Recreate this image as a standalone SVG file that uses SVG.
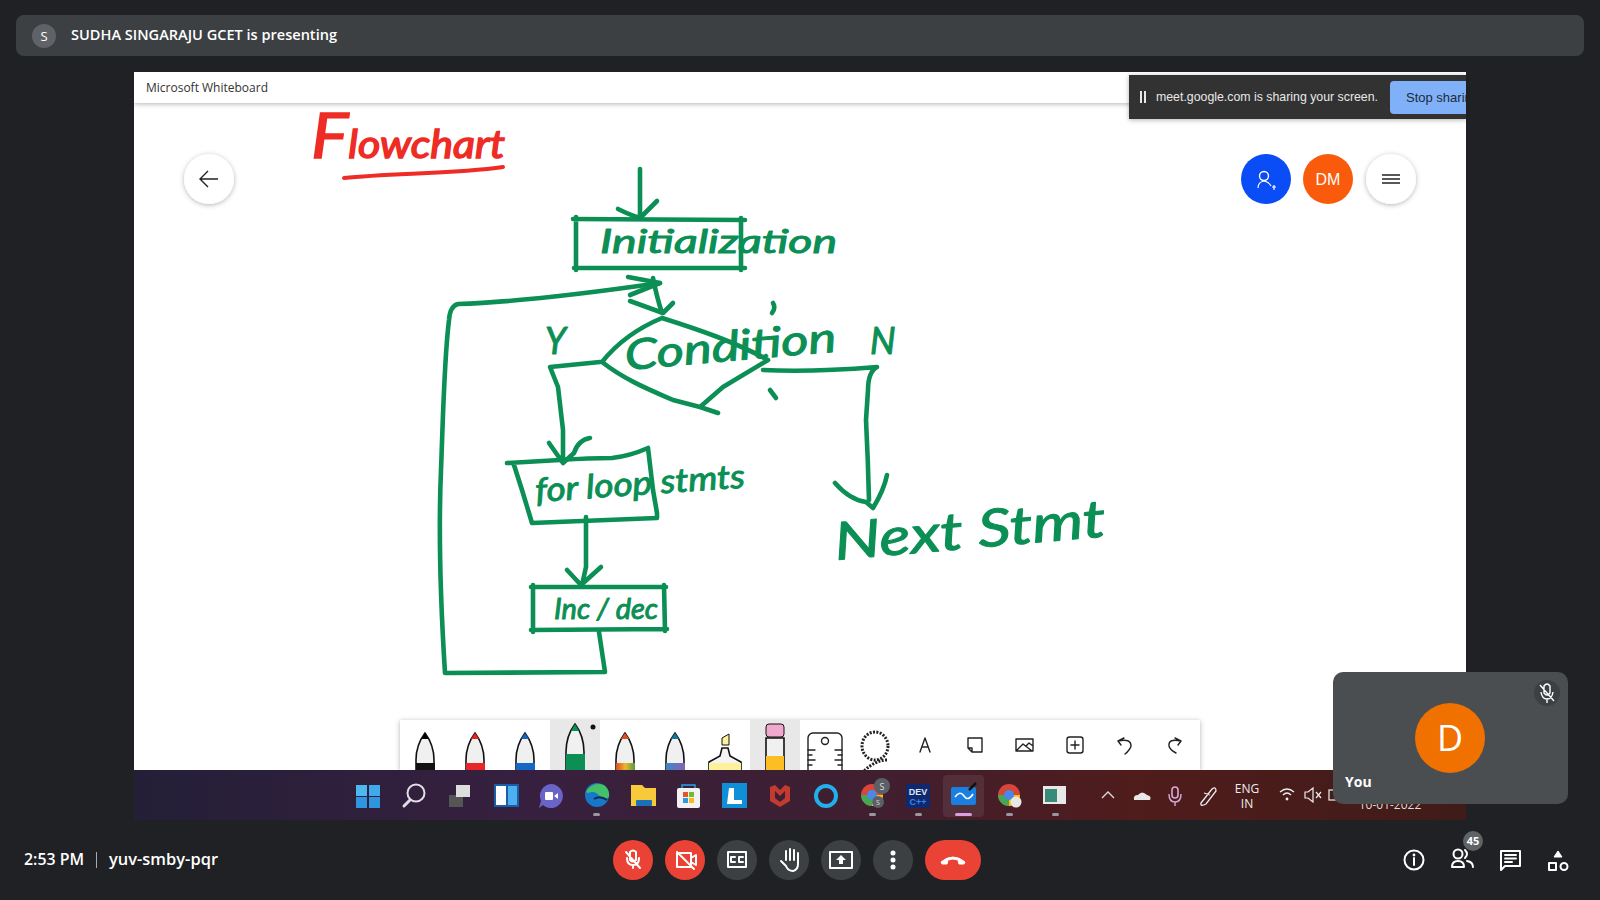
<svg xmlns="http://www.w3.org/2000/svg" width="1600" height="900" viewBox="0 0 1600 900">
<style>
.ui{font-family:"Open Sans","Liberation Sans",sans-serif}
.w{fill:#fff}
.ink{fill:none;stroke:#0b8f55;stroke-width:4.6;stroke-linecap:round;stroke-linejoin:round}
.hw{font-family:"Lato","Liberation Sans",sans-serif;font-style:italic;fill:#0b8f55;stroke:#0b8f55;stroke-width:1;stroke-linejoin:round}
.ic{fill:none;stroke:#fff;stroke-width:2;stroke-linecap:round;stroke-linejoin:round}
.tb{fill:none;stroke:#222;stroke-width:1.4;stroke-linecap:round;stroke-linejoin:round}
.pen{fill:#f0f0f0;stroke:#111;stroke-width:1.6}
.dot{fill:#9a98a0}
</style>
<defs>
<filter id="sh" x="-30%" y="-30%" width="160%" height="170%"><feDropShadow dx="0" dy="1" stdDeviation="2.5" flood-color="#000" flood-opacity=".3"/></filter>
<linearGradient id="task" x1="0" x2="1" y1="0" y2="0"><stop offset="0" stop-color="#241f38"/><stop offset=".3" stop-color="#37203f"/><stop offset=".55" stop-color="#3f1f30"/><stop offset=".75" stop-color="#501c1c"/><stop offset="1" stop-color="#3f1c18"/></linearGradient>
<linearGradient id="rain" x1="0" x2="1" y1="0" y2="0"><stop offset="0" stop-color="#e0501c"/><stop offset=".5" stop-color="#e8b830"/><stop offset="1" stop-color="#5a9a3c"/></linearGradient>
<linearGradient id="gal" x1="0" x2="1" y1="0" y2="0"><stop offset="0" stop-color="#3a88c8"/><stop offset="1" stop-color="#8a62b0"/></linearGradient>
<clipPath id="board"><rect x="134" y="72" width="1332" height="748"/></clipPath>
<clipPath id="tools"><rect x="400" y="720" width="800" height="50"/></clipPath>
</defs>
<rect width="1600" height="900" fill="#202124"/>
<g id="presenter-bar">
<rect x="16" y="15" width="1568" height="41" rx="8" fill="#3c4043"/>
<circle cx="44" cy="36" r="12" fill="#5f6368"/>
<text x="44" y="41" text-anchor="middle" class="ui w" font-size="13">S</text>
<text x="71" y="40" class="ui w" font-size="14" font-weight="600" textLength="266" lengthAdjust="spacingAndGlyphs">SUDHA SINGARAJU GCET is presenting</text>
</g>
<g id="whiteboard" clip-path="url(#board)">
<rect x="134" y="72" width="1332" height="748" fill="#fff"/>
<rect x="134" y="72" width="1332" height="31" fill="#fff" filter="url(#sh)"/>
<text x="146" y="92" class="ui" font-size="13" fill="#333" textLength="122" lengthAdjust="spacingAndGlyphs">Microsoft Whiteboard</text>
</g>
<g id="title">
<text x="311" y="158" font-family="Lato,Liberation Sans,sans-serif" font-style="italic" font-size="38" fill="#ee2b24" stroke="#ee2b24" stroke-width="1.4" textLength="194" lengthAdjust="spacingAndGlyphs"><tspan font-size="62">F</tspan>lowchart</text>
<path d="M344 178C390 173 455 174 503 167" fill="none" stroke="#ee2b24" stroke-width="4" stroke-linecap="round"/>
</g>
<g id="connectors">
<path class="ink" d="M640 169L640 217M618 209Q630 215 640 218L657 201"/>
<path class="ink" d="M660 283C590 293 520 302 458 304Q450 306 449 320C444 360 443 420 441 470C438 540 441 610 445 673L605 672L599 632"/>
<path class="ink" d="M628 277L660 283L630 295M653 278Q657 298 662 313M630 301L663 313L673 303"/>
<path class="ink" d="M600 362L550 367L558 387L563 430L563 462M549 443L563 463L574 453Q578 440 590 438"/>
<path class="ink" d="M763 370C800 372 840 370 877 367Q868 372 868 390L866 420Q868 460 869 500M835 483Q850 500 866 502L873 508Q884 490 887 475"/>
<path class="ink" d="M586 517L586 567L582 585M567 570L581 585L601 567"/>
<path class="ink" d="M773 303Q776 308 772 313M770 390L776 398"/>
</g>
<g id="node-init">
<path class="ink" d="M573 219L745 220M576 217L576 270M574 268L745 268M741 218L741 270"/>
<text x="600" y="253" class="hw" font-size="33" textLength="237" lengthAdjust="spacingAndGlyphs">Initialization</text>
</g>
<g id="node-condition">
<path class="ink" d="M662 318C638 328 618 342 602 362C625 380 650 390 673 400L700 407L723 387L768 360C735 342 700 330 662 318M700 407L718 413"/>
<text transform="translate(626 370) rotate(-5)" class="hw" font-size="42" textLength="212" lengthAdjust="spacingAndGlyphs">Condition</text>
</g>
<g id="label-y"><text x="545" y="354" class="hw" font-size="36">Y</text></g>
<g id="label-n"><text x="870" y="354" class="hw" font-size="36">N</text></g>
<g id="node-forloop">
<path class="ink" d="M507 463L560 460Q590 458 612 458Q630 456 648 448L653 490L657 513L657 518L532 523L522 490L514 465"/>
<text transform="translate(536 502) rotate(-4)" class="hw" font-size="33" textLength="210" lengthAdjust="spacingAndGlyphs">for loop stmts</text>
</g>
<g id="node-incdec">
<path class="ink" d="M531 587L666 587M533 585L533 632M531 630L667 629M664 585L665 631"/>
<text x="554" y="619" class="hw" font-size="29" textLength="104" lengthAdjust="spacingAndGlyphs">Inc / dec</text>
</g>
<g id="node-next">
<text transform="translate(836 560) rotate(-5)" class="hw" font-size="52" textLength="272" lengthAdjust="spacingAndGlyphs">Next Stmt</text>
</g>
<g id="back-button"><circle cx="209" cy="179" r="25" class="w" filter="url(#sh)"/><path d="M201 179H218M208 171L200 179L208 187" fill="none" stroke="#222" stroke-width="1.4"/></g>
<g id="share-notice">
<rect x="1129" y="75" width="337" height="44" fill="#333" filter="url(#sh)"/>
<path d="M1141 91V103M1145 91V103" stroke="#e8e8e8" stroke-width="2"/>
<text x="1156" y="101" font-family="Liberation Sans,sans-serif" font-size="13" fill="#e8e8e8" textLength="222" lengthAdjust="spacingAndGlyphs">meet.google.com is sharing your screen.</text>
<path d="M1466 81H1394Q1390 81 1390 85V110Q1390 114 1394 114H1466Z" fill="#7fb0f8"/>
<svg x="1390" y="81" width="76" height="33" viewBox="1390 81 76 33"><text x="1406" y="102" font-family="Liberation Sans,sans-serif" font-size="13" fill="#1d2a3a">Stop sharing</text></svg>
</g>
<g id="invite-button"><circle cx="1266" cy="179" r="25" fill="#0a4cf5"/><circle cx="1264" cy="176" r="4.500" fill="none" stroke="#fff" stroke-width="1.4"/><path d="M1258 188Q1258 182 1264 181Q1269 182 1271 186M1272 187H1276M1274 185V190" fill="none" stroke="#fff" stroke-width="1.2"/></g>
<g id="user-button"><circle cx="1328" cy="179" r="25" fill="#fa5a0c"/><text x="1328" y="185" text-anchor="middle" font-family="Liberation Sans,sans-serif" class="w" font-size="16">DM</text></g>
<g id="menu-button"><circle cx="1391" cy="179" r="25" class="w" filter="url(#sh)"/><path d="M1382 175H1400M1382 179H1400M1382 183H1400" stroke="#222" stroke-width="1.4"/></g>
<g id="toolbar">
<rect x="400" y="720" width="800" height="50" class="w" filter="url(#sh)"/>
<rect x="550" y="720" width="50" height="50" fill="#e8e8e8"/>
<rect x="750" y="720" width="50" height="50" fill="#e8e8e8"/>
<g clip-path="url(#tools)">
<g id="pens">
<path class="pen" d="M416 770V760Q416 745 425 733Q434 745 434 760V770Z"/><path d="M421 739L425 733L429 739Z" fill="#000"/><rect x="416" y="763" width="19" height="7" fill="#111"/>
<path class="pen" d="M466 770V760Q466 745 475 733Q484 745 484 760V770Z"/><path d="M471 739L475 733L479 739Z" fill="#e52520"/><rect x="466" y="763" width="19" height="7" fill="#e8262a"/>
<path class="pen" d="M516 770V760Q516 745 525 733Q534 745 534 760V770Z"/><path d="M521 739L525 733L529 739Z" fill="#1565c0"/><rect x="516" y="763" width="19" height="7" fill="#1668c4"/>
<path class="pen" d="M566 770V752Q566 736 575 724Q584 736 584 752V770Z"/><path d="M571 731L575 724L579 731Z" fill="#0b8f55"/><rect x="566" y="754" width="19" height="16" fill="#0b8f55"/><circle cx="593" cy="727" r="2.500" fill="#111"/>
<path class="pen" d="M616 770V760Q616 745 625 733Q634 745 634 760V770Z"/><path d="M621 739L625 733L629 739Z" fill="#e0501c"/><rect x="616" y="763" width="19" height="7" fill="url(#rain)"/>
<path class="pen" d="M666 770V760Q666 745 675 733Q684 745 684 760V770Z"/><path d="M671 739L675 733L679 739Z" fill="#11789c"/><rect x="666" y="763" width="19" height="7" fill="url(#gal)"/>
<path d="M709 770V762L720 756L722 748H728L730 756L741 762V770Z" fill="#f4f4f4" stroke="#111" stroke-width="1.6"/><path d="M722 745V738L729 734V745Z" fill="#fdf29a" stroke="#111"/><rect x="709" y="763" width="32" height="7" fill="#fdf29a"/>
<path d="M766 770V738H784V770Z" class="pen"/><rect x="766" y="724" width="18" height="13" rx="3" fill="#f0a8cc" stroke="#111"/><rect x="766" y="756" width="18" height="14" fill="#fbbf24"/>
</g>
<g id="ruler"><rect x="808" y="733" width="34" height="44" rx="5" fill="#fff" stroke="#222" stroke-width="1.4"/><circle cx="825" cy="741" r="3.500" class="tb"/><path class="tb" d="M808 750H815M808 755H812M808 760H815M808 765H812M842 750H835M842 755H838M842 760H835M842 765H838"/></g>
<g id="lasso"><ellipse cx="875" cy="746" rx="13" ry="14" fill="none" stroke="#222" stroke-width="3" stroke-dasharray="2 1.4"/><path d="M887 760Q875 760 863 772" fill="none" stroke="#222" stroke-width="3" stroke-dasharray="2 1.4"/></g>
</g>
<path class="tb" d="M920 752L925 738L930 752M922 747H928"/>
<path class="tb" d="M968 738H982V752H972L968 748ZM968 748H972V752"/>
<path class="tb" d="M1016 739H1033V751H1016ZM1017 750L1023 744L1032 751M1026 746L1029 743L1033 746"/>
<rect x="1067" y="737" width="16" height="16" rx="2.500" class="tb"/><path class="tb" d="M1075 741V749M1071 745H1079"/>
<path class="tb" d="M1124 738L1118 741L1121 745M1118 741Q1131 738 1131 746Q1130 750 1125 754"/>
<path class="tb" d="M1175 738L1181 741L1178 745M1181 741Q1168 738 1169 746Q1170 750 1176 753"/>
</g>
<g id="taskbar">
<rect x="134" y="770" width="1332" height="50" fill="url(#task)"/>
<g id="win"><rect x="356" y="785" width="11" height="11" fill="#4fb7f0"/><rect x="369" y="785" width="11" height="11" fill="#3fa9ec"/><rect x="356" y="797" width="11" height="11" fill="#2f95e0"/><rect x="369" y="797" width="11" height="11" fill="#2f95e0"/></g>
<circle cx="416" cy="793" r="8.500" fill="none" stroke="#e0dfe6" stroke-width="2"/><path d="M410 800L404 806" stroke="#e0dfe6" stroke-width="3" stroke-linecap="round"/>
<rect x="449" y="795" width="14" height="12" fill="#555"/><rect x="456" y="785" width="14" height="12" fill="#ddd"/>
<rect x="494" y="784" width="25" height="23" fill="#1a5ea8"/><rect x="496" y="786" width="10" height="19" fill="#fff"/><rect x="508" y="786" width="9" height="19" fill="#4eb0f0"/>
<path d="M551 784A12 12 0 1 1 543 805L539 808L541 801A12 12 0 0 1 551 784Z" fill="#6a63c8"/><rect x="545" y="792" width="8" height="8" rx="1" fill="#fff"/><path d="M554 796L558 793V799Z" fill="#fff"/>
<circle cx="597" cy="795" r="12" fill="#1878c8"/><path d="M586 792Q592 781 604 785Q610 790 609 797Q604 800 600 797Q596 790 588 793Z" fill="#45c06a"/><path d="M594 799Q600 795 607 800" fill="none" stroke="#0d2a55" stroke-width="2"/><rect x="593" y="813" width="7" height="3" rx="1.500" class="dot"/>
<path d="M631 785H642L645 788H656V806H631Z" fill="#f9c93c"/><rect x="636" y="800" width="16" height="6" rx="1" fill="#1c70b8"/>
<rect x="677" y="788" width="23" height="20" rx="2" fill="#f2f2f2"/><path d="M682 788V785H695V788" fill="none" stroke="#2aa4ea" stroke-width="1.400"/><rect x="683" y="792" width="5" height="5" fill="#e8532a"/><rect x="689" y="792" width="5" height="5" fill="#74b82c"/><rect x="683" y="798" width="5" height="5" fill="#2a9be0"/><rect x="689" y="798" width="5" height="5" fill="#f9b81c"/>
<rect x="722" y="783" width="25" height="25" fill="#0f8fd8"/><path d="M729 788H734V800H742V804H727Z" fill="#fff"/>
<path d="M770 787L775 785L780 790L785 785L790 787V801L780 807L770 801ZM775 791V798L780 802L785 798V791L780 796Z" fill="#c23b2e" fill-rule="evenodd"/>
<circle cx="826" cy="796" r="10" fill="none" stroke="#22b0ec" stroke-width="4"/>
<circle cx="872" cy="795" r="11" fill="#d8453a"/><path d="M872 795L861 795A11 11 0 0 0 872 806Z" fill="#45a653"/><path d="M872 795L883 795A11 11 0 0 1 872 806Z" fill="#f4c20d"/><circle cx="872" cy="795" r="5" fill="#4a88e8"/>
<circle cx="882" cy="786" r="8" fill="#5a6068"/><text x="882" y="790" text-anchor="middle" class="ui" font-size="9" fill="#ddd">S</text>
<circle cx="878" cy="802" r="6" fill="#5a6068"/><text x="878" y="805" text-anchor="middle" class="ui" font-size="7" fill="#ddd">S</text><rect x="869" y="813" width="7" height="3" rx="1.500" class="dot"/>
<rect x="906" y="784" width="24" height="24" fill="#12286e"/><text x="918" y="795" text-anchor="middle" font-family="Liberation Sans,sans-serif" font-weight="700" font-size="9" fill="#dfe6f2">DEV</text><text x="918" y="805" text-anchor="middle" font-family="Liberation Sans,sans-serif" font-weight="700" font-size="9" fill="#2f8ae8">C++</text><rect x="915" y="813" width="7" height="3" rx="1.500" class="dot"/>
<rect x="943" y="775" width="41" height="42" rx="4" fill="#fff" fill-opacity=".08"/>
<rect x="951" y="787" width="25" height="18" rx="2" fill="#1a7fe0"/><path d="M955 797Q960 790 964 796T973 794" fill="none" stroke="#fff" stroke-width="1.600"/><path d="M969 790L976 783" stroke="#111" stroke-width="2.500"/><rect x="955" y="813" width="17" height="3" rx="1.500" fill="#d8a0e0"/>
<circle cx="1009" cy="795" r="11" fill="#d8453a"/><path d="M1009 795H998A11 11 0 0 0 1009 806Z" fill="#45a653"/><path d="M1009 795H1020A11 11 0 0 1 1009 806Z" fill="#f4c20d"/><circle cx="1009" cy="795" r="5" fill="#4a88e8"/><circle cx="1016" cy="802" r="5.500" fill="#e8e8e8"/><rect x="1006" y="813" width="7" height="3" rx="1.500" class="dot"/>
<rect x="1043" y="786" width="23" height="18" fill="#e8e8e8"/><rect x="1045" y="789" width="12" height="13" fill="#3a8a78"/><rect x="1052" y="813" width="7" height="3" rx="1.500" class="dot"/>
<path d="M1102 798L1108 792L1114 798" fill="none" stroke="#ddd" stroke-width="1.300"/>
<path d="M1134 800Q1133 795 1138 795Q1142 790 1147 795Q1152 796 1150 800Z" fill="#e8e8e8"/>
<rect x="1172" y="787" width="6" height="11" rx="3" fill="none" stroke="#d8a8d8" stroke-width="1.600"/><path d="M1169 794Q1169 802 1175 802Q1181 802 1181 794M1175 802V806" fill="none" stroke="#d8a8d8" stroke-width="1.400"/>
<path d="M1201 803L1212 789Q1216 786 1216 791L1206 804Q1200 807 1201 803ZM1204 793L1210 795" fill="none" stroke="#eee" stroke-width="1.300"/>
<text x="1247" y="793" text-anchor="middle" class="ui" font-size="12" fill="#eee">ENG</text><text x="1247" y="808" text-anchor="middle" class="ui" font-size="12" fill="#eee">IN</text>
<path d="M1280 792Q1287 786 1294 792M1283 795Q1287 791 1291 795" fill="none" stroke="#eee" stroke-width="1.300"/><circle cx="1287" cy="799" r="1.400" fill="#eee"/>
<path d="M1305 792H1308L1313 788V802L1308 798H1305ZM1316 792L1321 798M1321 792L1316 798" fill="none" stroke="#eee" stroke-width="1.200"/>
<rect x="1329" y="790" width="8" height="10" fill="none" stroke="#eee" stroke-width="1.200"/>
<text x="1390" y="809" text-anchor="middle" class="ui" font-size="12" fill="#ddd">10-01-2022</text>
</g>
<g id="self-view">
<rect x="1333" y="672" width="235" height="132" rx="10" fill="#4a4e51"/>
<circle cx="1547" cy="693" r="13" fill="#3c4043"/>
<path d="M1544 686Q1547 682 1550 686V693Q1547 697 1544 693ZM1541 692Q1542 699 1547 699Q1552 699 1553 692M1547 699V703M1540 685L1554 701" fill="none" stroke="#fff" stroke-width="1.400"/>
<circle cx="1450" cy="738" r="35" fill="#f07000"/>
<text x="1450" y="751" text-anchor="middle" class="ui w" font-size="36">D</text>
<text x="1345" y="787" class="ui w" font-size="14" font-weight="700">You</text>
</g>
<g id="meeting-info">
<text x="24" y="865" class="ui w" font-size="15.500" font-weight="600" textLength="60" lengthAdjust="spacingAndGlyphs">2:53 PM</text>
<rect x="96" y="852" width="1" height="16" fill="#aaa"/>
<text x="109" y="865" class="ui w" font-size="15.500" font-weight="600" textLength="109" lengthAdjust="spacingAndGlyphs">yuv-smby-pqr</text>
</g>
<g id="btn-mic"><circle cx="633" cy="860" r="20" fill="#ea4335"/><path d="M630 852Q633 849 636 852V860Q633 863 630 860ZM627 858Q627 865 633 865Q639 865 639 858M633 865V868M626 852L640 868" class="ic"/></g>
<g id="btn-cam"><circle cx="685" cy="860" r="20" fill="#ea4335"/><path d="M677 853H691V867H677ZM691 858L696 855V865L691 862M677 852L694 869" class="ic"/></g>
<g id="btn-cc"><circle cx="737" cy="860" r="20" fill="#3c4043"/><rect x="728" y="852" width="18" height="15" class="ic"/><path d="M735 857H731V862H735M743 857H739V862H743" class="ic" stroke-width="1.600"/></g>
<g id="btn-hand"><circle cx="789" cy="860" r="20" fill="#3c4043"/><path d="M781 861L786 866Q788 871 793 871Q798 870 798 864V853M794 860V850M790 860V849M786 860V851" class="ic"/></g>
<g id="btn-present"><circle cx="841" cy="860" r="20" fill="#3c4043"/><rect x="830" y="852" width="22" height="16" class="ic"/><path d="M841 855L846 860H843V864H839V860H836Z" class="w"/></g>
<g id="btn-more"><circle cx="893" cy="860" r="20" fill="#3c4043"/><circle cx="893" cy="853" r="2.500" class="w"/><circle cx="893" cy="860" r="2.500" class="w"/><circle cx="893" cy="867" r="2.500" class="w"/></g>
<g id="btn-hangup"><rect x="925" y="840" width="56" height="40" rx="20" fill="#ea4335"/><path d="M941 862Q953 852 965 862L964 864H959L958 860Q953 858 948 860L947 864H942Z" class="w" stroke="#fff"/></g>
<g id="btn-info"><circle cx="1414" cy="860" r="9.500" class="ic"/><path d="M1414 858V865" class="ic"/><circle cx="1414" cy="855" r="1.400" class="w"/></g>
<g id="btn-people"><circle cx="1458" cy="854" r="4.500" class="ic" stroke-width="2.600"/><path d="M1452 867Q1452 861 1458 861Q1464 861 1464 867ZM1465 850Q1469 854 1465 858M1467 861Q1473 862 1473 867" class="ic" stroke-width="2.600"/><circle cx="1473" cy="841" r="10" fill="#5f6368"/><text x="1473" y="845" text-anchor="middle" class="ui w" font-size="11" font-weight="700">45</text></g>
<g id="btn-chat"><path d="M1501 851H1520V866H1505L1501 870Z" class="ic"/><path d="M1505 855H1516M1505 858.500H1516M1505 862H1512" class="ic" stroke-width="1.400"/></g>
<g id="btn-activities"><path d="M1558 851L1562 857H1554Z" class="w" stroke="#fff"/><rect x="1549" y="863" width="7" height="7" class="ic"/><circle cx="1564" cy="866.500" r="3.500" class="ic"/></g>
</svg>
